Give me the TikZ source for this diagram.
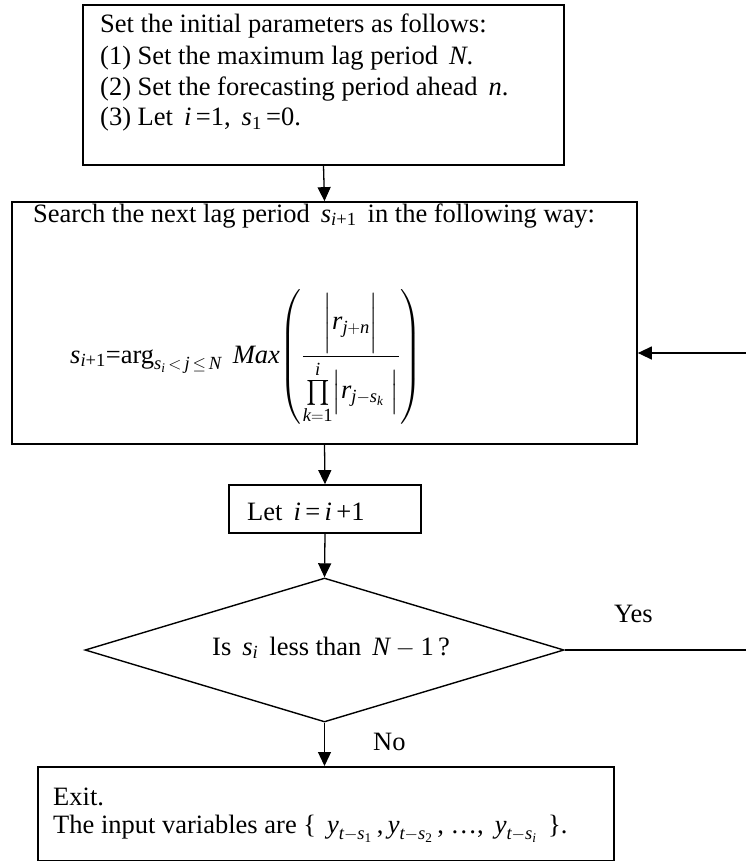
\documentclass[tikz,border=0pt]{standalone}
\usepackage{fontspec}
\setmainfont{Liberation Serif}
\usepackage{amsmath}
\usetikzlibrary{arrows.meta,shapes.geometric}
\newcommand{\mi}[1]{\text{\itshape #1}}
\newcommand{\tx}[1]{\text{#1}}
\tikzset{
  box/.style={draw, line width=1.7pt, inner sep=0pt},
  conn/.style={line width=1.3pt},
  arr/.style={conn, -{Triangle[length=14pt,width=13pt]}},
  txt/.style={anchor=base west, inner sep=0pt, font=\fontsize{26.5}{31}\selectfont},
}
\begin{document}
\begin{tikzpicture}[x=1pt,y=-1pt]
\useasboundingbox (0,0) rectangle (746,861);
% boxes
\node[box, minimum width=481pt, minimum height=160pt] (b1) at (323.5,85) {};
\node[box, minimum width=625pt, minimum height=242pt] (b2) at (324.5,323) {};
\node[box, minimum width=192pt, minimum height=48pt] (b3) at (325,509) {};
\node[draw, line width=1.4pt, diamond, minimum width=479pt, minimum height=144pt, inner sep=0pt, aspect=3.3] (d) at (324.5,650) {};
\node[box, minimum width=576pt, minimum height=94pt, anchor=north west] (b4) at (37,766) {};
% texts
\node[txt] (t1) at (100,33) {Set the initial parameters as follows:};
\node[txt] (t2) at (100,65) {(1) Set the maximum lag period\, \textit{N}.};
\node[txt] (t3) at (100,96) {(2) Set the forecasting period ahead\, \textit{n}.};
\node[txt] (t4) at (100,126) {(3) Let\, \textit{i}\,=1,\, $\mi{s}_{\tx{1}}$\,=0.};
\node[txt] (t5) at (33,222) {Search the next lag period\, $\mi{s}_{\mi{i}\tx{+1}}$\, in the following way:};
\node[anchor=west, inner sep=0pt, font=\fontsize{26.5}{31}\selectfont] (f) at (70,357)
  {$\mi{s}_{\mi{i}\tx{+1}}\tx{=}\tx{arg}_{\mi{s}_{\mi{i}}\,{<}\,\mi{j}\,{\le}\,\mi{N}}\hspace{11pt}\mi{Max}\!\left(\dfrac{\biggl|\mi{r}_{\mi{j}+\mi{n}}\biggr|}{\prod\limits_{\mi{k}=\tx{1}}^{\mi{i}}\Bigl|\mi{r}_{\mi{j}-\mi{s}_{\mi{k}}}\;\Bigr|}\right)$};
\node[txt] (t6) at (247,520) {Let\, \textit{i}\,=\,\textit{i}\,+1};
\node[txt] (t7) at (212,655) {Is\, $\mi{s}_{\mi{i}}$\, less than\, $\mi{N}-\tx{1}$\,?};
\node[txt] (yes) at (614,622) {Yes};
\node[txt] (no) at (373,750) {No};
\node[txt] (t8) at (53,805) {Exit.};
\node[txt] (t9) at (53,833) {The input variables are \{\, $\mi{y}_{\mi{t}-\mi{s}_{\tx{1}}}$\,,\,$\mi{y}_{\mi{t}-\mi{s}_{\tx{2}}}$\,, \dots,\, $\mi{y}_{\mi{t}-\mi{s}_{\mi{i}}}$\, \}.};
% connectors
\coordinate (rin) at (746,353);
\coordinate (yend) at (746,650);
\draw[arr] (b1.south) -- (b2.north);
\draw[arr] (b2.south) -- (b3.north);
\draw[arr] (b3.south) -- (d.north);
\draw[arr] (d.south) -- (b4.north -| d.south);
\draw[arr] (rin) -- (rin -| b2.east);
\draw[conn] (d.east) -- (yend);
\end{tikzpicture}
\end{document}
